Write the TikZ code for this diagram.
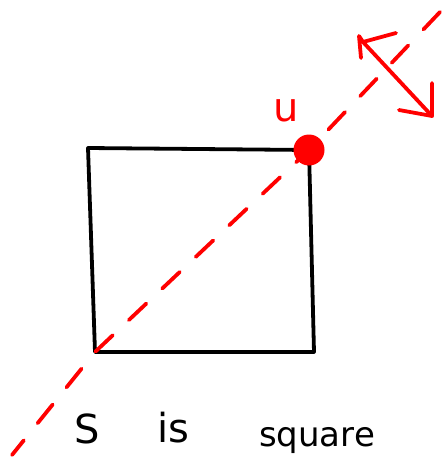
\documentclass[tikz,border=0pt]{standalone}
\usepackage{fontspec}
\setmainfont{DejaVu Sans}
\begin{document}
\begin{tikzpicture}[x=1pt,y=-1pt,
  ink/.style={line width=3.8pt,line cap=round,line join=round},
  redink/.style={ink,draw=red},
  dashline/.style={redink,dash pattern=on 24pt off 22pt},
  word/.style={anchor=base,inner sep=0pt,font=\fontsize{34}{40}\selectfont}]
\useasboundingbox (0,0) rectangle (443,471);
% square
\coordinate (tl) at (88,148);
\coordinate (tr) at (309,150);
\coordinate (br) at (314,352);
\coordinate (bl) at (95,352);
\draw[ink] (tl) -- (tr) -- (br) -- (bl) -- cycle;
% diagonal dashed line
\coordinate (lo) at (12,455);
\coordinate (hi) at (440,12);
\draw[dashline] (hi) -- (tr) -- (bl) -- (lo);
% point u
\fill[red] (tr) circle (15.5);
\node[word,text=red,font=\fontsize{40}{46}\selectfont] (u) at (286,121) {u};
% perpendicular double arrow
\coordinate (a1) at (363,42);
\coordinate (a2) at (432,116);
\draw[redink] (a1) -- (a2);
\draw[redink] (396,33) -- (a1) -- (359,36) -- (361,58);
\draw[redink] (432,83) -- (a2) -- (399,110);
% caption
\node[word,font=\fontsize{40}{46}\selectfont] (s) at (87,443) {S};
\node[word,font=\fontsize{40}{46}\selectfont] (is) at (173,442) {is};
\node[word] (sq) at (317,446) {square};
\end{tikzpicture}
\end{document}
